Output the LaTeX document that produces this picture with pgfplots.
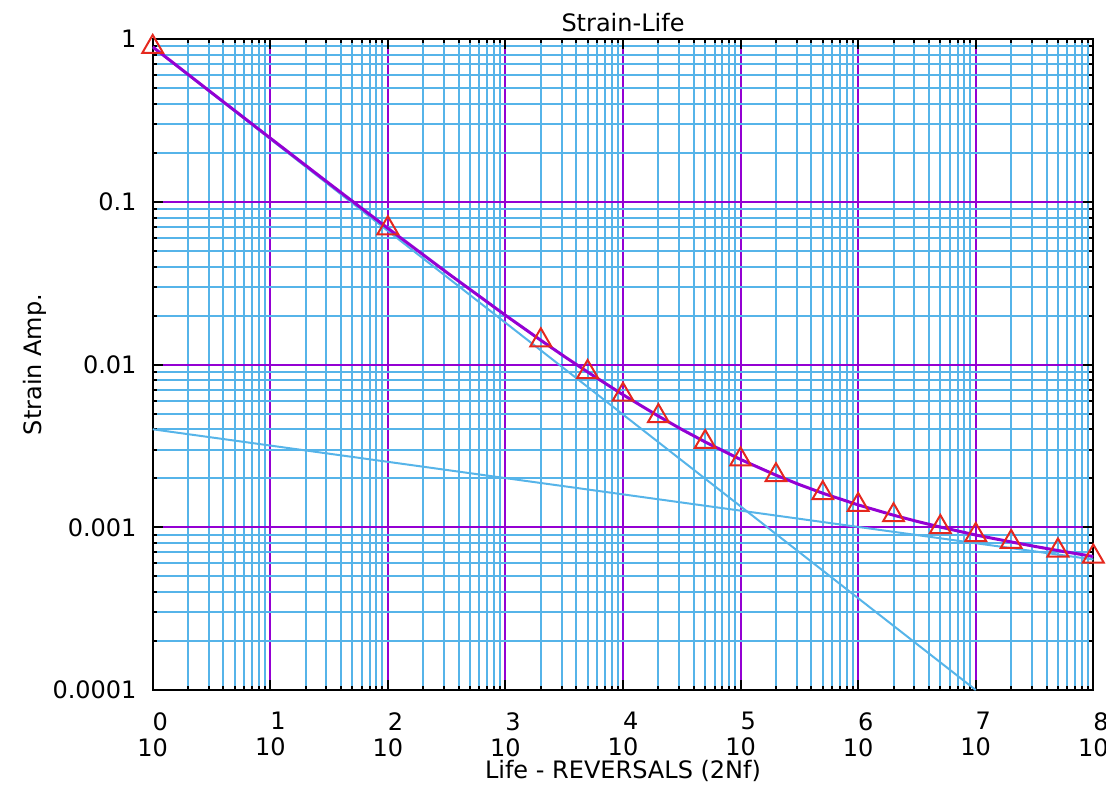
\documentclass[border=0pt]{standalone}
\usepackage{pgfplots}
\pgfplotsset{compat=1.18}
\usepackage{fontspec}
\setmainfont{DejaVu Sans}
\definecolor{gpblue}{RGB}{86,180,233}
\definecolor{gpviolet}{RGB}{148,0,211}
\definecolor{gpred}{RGB}{229,40,30}
\begin{document}
\fontsize{12}{14.4}\selectfont
\begin{tikzpicture}
\useasboundingbox (-76.35pt,-54.5pt) rectangle (476.65pt,345pt);
\begin{axis}[
  at={(0,0)}, anchor=south west,
  scale only axis, width=470.3pt, height=325.5pt,
  xmode=log, ymode=log,
  xmin=1, xmax=1e8, ymin=1e-4, ymax=1,
  xtick={1,10,100,1000,1e4,1e5,1e6,1e7,1e8},
  xticklabels={{0\\10},{1\\10},{2\\10},{3\\10},{4\\10},{5\\10},{6\\10},{7\\10},{8\\10}},
  ytick={1e-4,1e-3,1e-2,1e-1,1},
  yticklabels={0.0001,0.001,0.01,0.1,1},
  grid=both,
  major grid style={gpviolet, line width=1pt},
  minor grid style={gpblue, line width=1pt},
  axis line style={black, line width=1pt},
  tick style={black, line width=1pt},
  major tick length=5pt, minor tick length=2pt,
  tick label style={font=\fontsize{12}{13}\selectfont},
  xticklabel style={align=right, anchor=north, inner sep=0pt, yshift=-11pt},
  yticklabel style={anchor=east, inner sep=0pt, xshift=-7.9pt},
  every axis title/.style={at={(axis description cs:0.5,1)}, anchor=base, yshift=3.75pt},
  every axis x label/.style={at={(axis description cs:0.5,0)}, anchor=base, yshift=-44.2pt},
  every axis y label/.style={at={(axis description cs:0,0.5)}, xshift=-58.9pt, rotate=90, anchor=center},
  title={Strain-Life},
  xlabel={Life - REVERSALS (2Nf)},
  ylabel={Strain Amp.},
]
% elastic line
\addplot[gpblue, line width=1pt] coordinates {(1,0.004) (1e8,0.000634)};
% plastic line
\addplot[gpblue, line width=1pt] coordinates {(1,0.89) (1e7,0.0001)};
% total
\addplot[gpviolet, line width=1.5pt] coordinates {
(1,0.894) (3.1623,0.4684) (10,0.2460) (31.623,0.1296) (100,0.06874)
(316.23,0.03684) (1000,0.02007) (2000,0.01409) (3162.3,0.01122) (5000,0.008993)
(1e4,0.006520) (2e4,0.004819) (31623,0.003992) (5e4,0.003343) (1e5,0.002609)
(2e5,0.002089) (316228,0.001829) (5e5,0.001619) (1e6,0.001372) (2e6,0.001186)
(3162278,0.001087) (5e6,0.001003) (1e7,0.0008962) (2e7,0.0008125)
(31622777,0.0007635) (5e7,0.0007197) (1e8,0.0006613)};
% markers
\addplot[only marks, mark=triangle, mark size=6pt, mark options={gpred, line width=1pt}] coordinates {
(1,0.894) (100,0.06874) (2000,0.01409) (5000,0.008993) (1e4,0.006520)
(2e4,0.004819) (5e4,0.003343) (1e5,0.002609) (2e5,0.002089) (5e5,0.001619)
(1e6,0.001372) (2e6,0.001186) (5e6,0.001003) (1e7,0.0008962) (2e7,0.0008125)
(5e7,0.0007197) (1e8,0.0006613)};
\end{axis}
\end{tikzpicture}
\end{document}
